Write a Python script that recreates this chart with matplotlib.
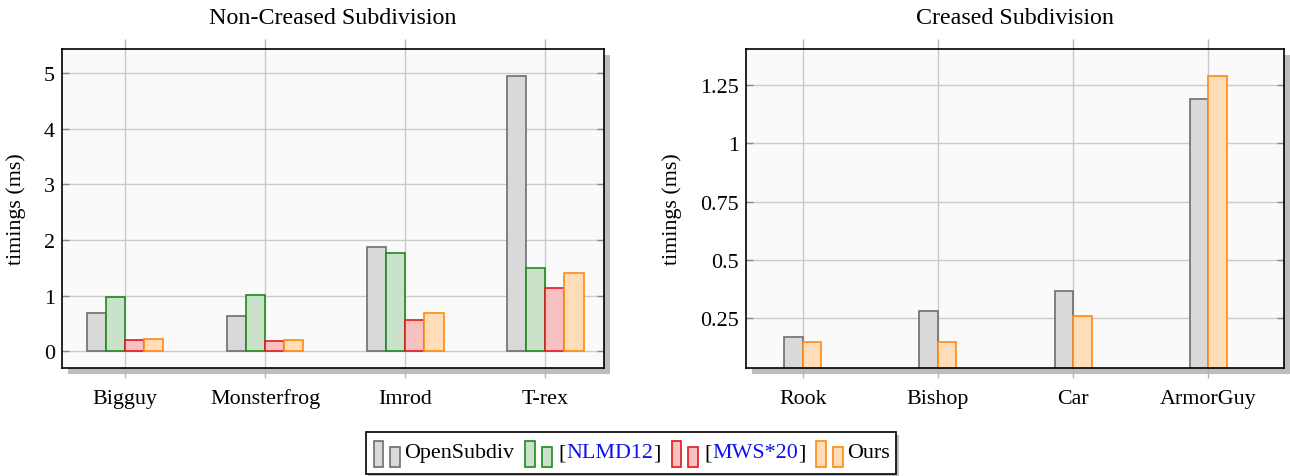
import matplotlib
matplotlib.use("Agg")
import matplotlib.pyplot as plt
import numpy as np
from matplotlib import patheffects as pe
from matplotlib.offsetbox import AnchoredOffsetbox, DrawingArea, HPacker, TextArea
from matplotlib.patches import Rectangle

plt.rcParams["font.family"] = ["Liberation Serif", "DejaVu Serif"]
plt.rcParams["font.size"] = 16

# data
left_cats = ["Bigguy", "Monsterfrog", "Imrod", "T-rex"]
left_opensubdiv = [0.69, 0.63, 1.87, 4.95]
left_nlmd12 = [0.98, 1.01, 1.77, 1.49]
left_mws20 = [0.20, 0.19, 0.57, 1.14]
left_ours = [0.22, 0.20, 0.68, 1.41]

right_cats = ["Rook", "Bishop", "Car", "ArmorGuy"]
right_opensubdiv = [0.171, 0.28, 0.367, 1.191]
right_ours = [0.15, 0.15, 0.259, 1.288]

right_yticks = [0.25, 0.5, 0.75, 1.0, 1.25]
right_yticklabels = ["0.25", "0.5", "0.75", "1", "1.25"]

STYLES = {
    "OpenSubdiv": dict(edge="#6e6e6e", face="#d9d9d9"),
    "NLMD12": dict(edge="#1e8a1e", face="#c9e2c9"),
    "MWS20": dict(edge="#e3181c", face="#f7c1c2"),
    "Ours": dict(edge="#ff8a10", face="#ffddb9"),
}

BAR_W = 0.137
FS = 15.8


def style_axes(ax):
    ax.set_facecolor("#fafafa")
    ax.patch.set_path_effects([
        pe.SimplePatchShadow(offset=(4, -4.5), shadow_rgbFace="#bdbdbd", alpha=1.0),
        pe.Normal(),
    ])
    for s in ax.spines.values():
        s.set_linewidth(1.2)
        s.set_color("black")
        s.set_zorder(5)
    ax.grid(True, color="#cbcbcb", linewidth=1.0)
    ax.set_axisbelow(True)
    ax.tick_params(axis="x", direction="out", top=True, bottom=True, length=7,
                   width=1.0, color="#b5b5b5", labelsize=FS, pad=18)
    ax.tick_params(axis="y", direction="in", left=True, right=True, length=5,
                   width=1.0, color="#8a8a8a", labelsize=FS, pad=5)
    ax.set_ylabel("timings (ms)", fontsize=FS, labelpad=13)


def bars(ax, cats, series, offsets):
    x = np.arange(len(cats))
    for (name, vals), off in zip(series, offsets):
        st = STYLES[name]
        ax.bar(x + off * BAR_W, vals, width=BAR_W, facecolor=st["face"],
               edgecolor=st["edge"], linewidth=1.2, zorder=3)
    ax.set_xticks(x)
    ax.set_xticklabels(cats)
    for lab in ax.get_xticklabels():
        lab.set_verticalalignment("baseline")


fig = plt.figure(figsize=(12.9, 4.77), dpi=100)

ax1 = fig.add_axes([62 / 1290, 1 - 369 / 477, 542 / 1290, 319 / 477])
style_axes(ax1)
bars(ax1, left_cats,
     [("OpenSubdiv", left_opensubdiv), ("NLMD12", left_nlmd12),
      ("MWS20", left_mws20), ("Ours", left_ours)],
     [-1.5, -0.5, 0.5, 1.5])
ax1.set_xlim(-0.45, 3.42)
ax1.set_ylim(-0.3, 5.43)
ax1.set_yticks([0, 1, 2, 3, 4, 5])
ax1.set_title("Non-Creased Subdivision", fontsize=17.3, pad=19)

ax2 = fig.add_axes([746 / 1290, 1 - 369 / 477, 538 / 1290, 319 / 477])
style_axes(ax2)
bars(ax2, right_cats,
     [("OpenSubdiv", right_opensubdiv), ("Ours", right_ours)],
     [-0.5, 0.5])
ax2.set_xlim(-0.42, 3.56)
ax2.set_ylim(0.037, 1.404)
ax2.set_yticks(right_yticks)
ax2.set_yticklabels(right_yticklabels)
ax2.set_title("Creased Subdivision", fontsize=17.3, pad=19)


# legend built from small boxes so that citation keys can be blue inside black brackets
def icon(name):
    st = STYLES[name]
    da = DrawingArea(20, 20, 0, 0)
    da.add_artist(Rectangle((1, 0), 7, 19, facecolor=st["face"], edgecolor=st["edge"], linewidth=1.2))
    da.add_artist(Rectangle((13, 0), 7, 14, facecolor=st["face"], edgecolor=st["edge"], linewidth=1.2))
    return da


def txt(s, color="black"):
    return TextArea(s, textprops=dict(color=color, fontsize=FS))


def cite(key):
    return HPacker(children=[txt("["), txt(key, "#1010ee"), txt("]")], sep=0, pad=0, align="baseline")


entries = [
    HPacker(children=[icon("OpenSubdiv"), txt("OpenSubdiv")], sep=3, pad=0, align="center"),
    HPacker(children=[icon("NLMD12"), cite("NLMD12")], sep=5, pad=0, align="center"),
    HPacker(children=[icon("MWS20"), cite("MWS*20")], sep=5, pad=0, align="center"),
    HPacker(children=[icon("Ours"), txt("Ours")], sep=3, pad=0, align="center"),
]
row = HPacker(children=entries, sep=7, pad=0, align="center")
leg = AnchoredOffsetbox(loc="center", child=row, pad=0.3, borderpad=0, frameon=True,
                        bbox_to_anchor=(631 / 1290, 1 - 454 / 477),
                        bbox_transform=fig.transFigure)
leg.patch.set_edgecolor("black")
leg.patch.set_linewidth(1.2)
leg.patch.set_boxstyle("square", pad=0)
leg.patch.set_path_effects([
    pe.SimplePatchShadow(offset=(2, -2), shadow_rgbFace="#bdbdbd", alpha=1.0),
    pe.Normal(),
])
fig.add_artist(leg)

fig.savefig("out.png", dpi=100)
